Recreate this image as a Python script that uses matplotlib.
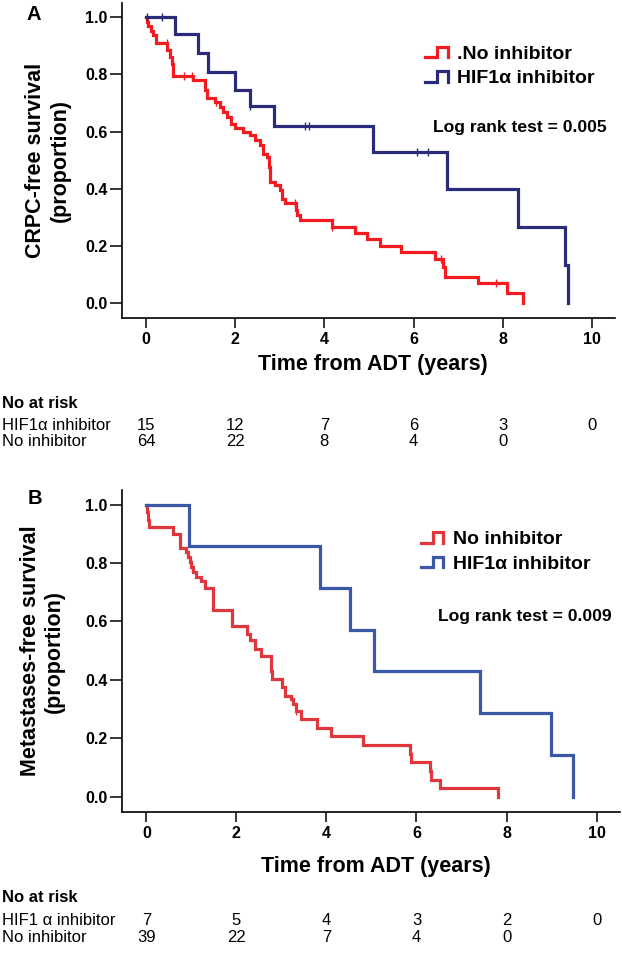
import numpy as np
import matplotlib
matplotlib.use("Agg")
import matplotlib.pyplot as plt
from matplotlib.lines import Line2D
from matplotlib.legend_handler import HandlerBase
import matplotlib.transforms as mtransforms

plt.rcParams["font.family"] = ["Liberation Sans", "DejaVu Sans"]
plt.rcParams["font.weight"] = "bold"

# ---------- panel A: CRPC-free survival ----------
a_blue_t = [0, 0.65, 1.17, 1.39, 2.00, 2.33, 2.88, 5.08, 6.74, 8.34, 9.40, 9.46]
a_blue_s = [1.0, 0.94, 0.875, 0.81, 0.745, 0.69, 0.62, 0.53, 0.40, 0.265, 0.133, 0.0]
a_blue_cens = [0.02, 0.36, 2.34, 3.57, 3.65, 6.07, 6.32]

a_red_t = [0, 0.02, 0.05, 0.10, 0.16, 0.22, 0.48, 0.53, 0.58, 0.61, 1.06, 1.32, 1.36,
           1.55, 1.66, 1.73, 1.82, 1.90, 2.00, 2.18, 2.33, 2.44, 2.56, 2.63, 2.71,
           2.76, 2.78, 2.89, 3.00, 3.06, 3.12, 3.36, 3.38, 3.45, 4.16, 4.69, 4.95,
           5.25, 5.73, 6.48, 6.67, 6.70, 7.45, 8.09, 8.45]
a_red_s = [1.0, 0.984, 0.969, 0.953, 0.937, 0.91, 0.885, 0.86, 0.838, 0.795, 0.78,
           0.745, 0.716, 0.704, 0.686, 0.669, 0.651, 0.628, 0.614, 0.599, 0.587,
           0.570, 0.552, 0.523, 0.512, 0.477, 0.424, 0.413, 0.395, 0.366, 0.349,
           0.325, 0.308, 0.290, 0.267, 0.244, 0.223, 0.199, 0.179, 0.156, 0.127,
           0.092, 0.069, 0.034, 0.0]
a_red_cens = [0.46, 0.84, 1.02, 1.58, 3.34, 4.17, 6.62, 7.86]

a_risk_times = [0, 2, 4, 6, 8, 10]
a_risk_hif = ["15", "12", "7", "6", "3", "0"]
a_risk_no = ["64", "22", "8", "4", "0"]

# ---------- panel B: metastases-free survival ----------
b_blue_t = [0, 0.94, 3.85, 4.52, 5.05, 7.41, 8.98, 9.48]
b_blue_s = [1.0, 0.857, 0.714, 0.571, 0.429, 0.286, 0.143, 0.0]

b_red_t = [0, 0.02, 0.04, 0.06, 0.59, 0.74, 0.89, 0.92, 0.96, 1.00, 1.04, 1.11,
           1.22, 1.30, 1.47, 1.49, 1.90, 2.24, 2.31, 2.41, 2.55, 2.78, 2.80, 3.02,
           3.08, 3.22, 3.26, 3.32, 3.44, 3.78, 4.11, 4.82, 5.86, 5.88, 6.30, 6.33,
           6.53, 7.81]
b_red_s = [1.0, 0.974, 0.949, 0.925, 0.90, 0.85, 0.838, 0.821, 0.804, 0.787, 0.77,
           0.753, 0.739, 0.716, 0.695, 0.638, 0.586, 0.558, 0.535, 0.506, 0.481,
           0.432, 0.403, 0.375, 0.346, 0.334, 0.317, 0.294, 0.266, 0.237, 0.208,
           0.177, 0.145, 0.119, 0.088, 0.059, 0.031, 0.0]
b_red_cens = [1.01, 3.33]

b_risk_times = [0, 2, 4, 6, 8, 10]
b_risk_hif = ["7", "5", "4", "3", "2", "0"]
b_risk_no = ["39", "22", "7", "4", "0"]


class StepGlyph(HandlerBase):
    def create_artists(self, legend, orig_handle, xdescent, ydescent, width, height,
                       fontsize, trans):
        x0, y0 = -xdescent, -ydescent
        xs = [x0, x0 + 0.55 * width, x0 + 0.55 * width, x0 + width, x0 + width]
        ys = [y0 + 0.12 * height, y0 + 0.12 * height, y0 + 0.88 * height,
              y0 + 0.88 * height, y0 + 0.1 * height]
        ln = Line2D(xs, ys, color=orig_handle.get_color(),
                    lw=orig_handle.get_linewidth(), solid_joinstyle="miter",
                    transform=trans)
        return [ln]


def km_at(t, times, surv):
    i = np.searchsorted(times, t, side="right") - 1
    return surv[i]


def panel(ax, red, blue, red_cens, blue_cens, cols, labels, pval, ylab,
          leg_xy, p_xy, ylab_x, xlab_y):
    rc, bc = cols
    lr, = ax.step(red[0], red[1], where="post", color=rc, lw=2.3,
                  solid_joinstyle="miter")
    lb, = ax.step(blue[0], blue[1], where="post", color=bc, lw=2.3,
                  solid_joinstyle="miter")
    for cens, (tt, ss), c in ((red_cens, red, rc), (blue_cens, blue, bc)):
        if cens:
            ys = [km_at(t, tt, ss) for t in cens]
            ax.plot(cens, ys, ls="none", marker="|", ms=6, mew=1.0, color=c)
    ax.set_xlim(-0.54, 10.52)
    ax.set_ylim(-0.052, 1.05)
    ax.set_xticks([0, 2, 4, 6, 8, 10])
    ax.set_yticks([0, 0.2, 0.4, 0.6, 0.8, 1.0])
    ax.set_yticklabels([f"{v:.1f}" for v in ax.get_yticks()])
    ax.spines[["top", "right"]].set_visible(False)
    for s in ("left", "bottom"):
        ax.spines[s].set_linewidth(1.2)
    ax.tick_params(axis="y", length=8.5, width=1.1, labelsize=11.5, pad=2)
    ax.tick_params(axis="x", length=7, width=1.1, labelsize=11.5, pad=3)
    ax.legend([lr, lb], labels, handler_map={Line2D: StepGlyph()}, frameon=False,
              loc="upper left", bbox_to_anchor=leg_xy, borderaxespad=0,
              borderpad=0, handlelength=1.15, handletextpad=0.5,
              labelspacing=0.36, prop={"size": 14, "weight": "bold"})
    ax.text(p_xy[0], p_xy[1], f"Log rank test = {pval}", transform=ax.transAxes,
            fontsize=12.6, fontweight="bold", ha="left", va="center")
    ax.text(ylab_x, 0.5, ylab, transform=ax.transAxes, rotation=90, ha="center",
            va="center", multialignment="center", fontsize=15.5, fontweight="bold")
    ax.set_xlabel("Time from ADT (years)", fontsize=15.5, fontweight="bold")
    ax.xaxis.set_label_coords(0.509, xlab_y)
    ax.xaxis.label.set_va("top")


fig = plt.figure(figsize=(6.22, 9.55), dpi=100)
W, H = 622, 955
axA = fig.add_axes([122 / W, 1 - 318 / H, 493 / W, 315 / H])
axB = fig.add_axes([122 / W, 1 - 812 / H, 498 / W, 322 / H])

panel(axA, (a_red_t, a_red_s), (a_blue_t, a_blue_s), a_red_cens, a_blue_cens,
      ("#f41a1f", "#2a2b7a"), [".No inhibitor", "HIF1α inhibitor"], "0.005",
      "CRPC-free survival\n(proportion)", (0.615, 0.866), (0.631, 0.606), -0.15, -0.114)
panel(axB, (b_red_t, b_red_s), (b_blue_t, b_blue_s), b_red_cens, [],
      ("#e0363d", "#3a58a7"), ["No inhibitor", "HIF1α inhibitor"], "0.009",
      "Metastases-free survival\n(proportion)", (0.600, 0.874), (0.635, 0.606), -0.16, -0.137)

fig.text(34 / W, 1 - 15 / H, "A", fontsize=14.5, fontweight="bold", ha="center", va="center")
fig.text(35 / W, 1 - 498 / H, "B", fontsize=14.5, fontweight="bold", ha="center", va="center")


def risk_table(ax, rows_y, hif_name, times, hif, no):
    tr = mtransforms.blended_transform_factory(ax.transData, fig.transFigure)
    fig.text(2 / W, 1 - rows_y[0] / H, "No at risk", fontsize=12, fontweight="bold",
             ha="left", va="center")
    fig.text(2 / W, 1 - rows_y[1] / H, hif_name, fontsize=12, fontweight="normal",
             ha="left", va="center")
    fig.text(2 / W, 1 - rows_y[2] / H, "No inhibitor", fontsize=12, fontweight="normal",
             ha="left", va="center")
    for t, v in zip(times, hif):
        ax.text(t, 1 - rows_y[1] / H, v, transform=tr, fontsize=12,
                fontweight="normal", ha="center", va="center")
    for t, v in zip(times, no):
        ax.text(t, 1 - rows_y[2] / H, v, transform=tr, fontsize=12,
                fontweight="normal", ha="center", va="center")


risk_table(axA, (404, 425, 442), "HIF1α inhibitor", a_risk_times, a_risk_hif, a_risk_no)
risk_table(axB, (898, 920, 937), "HIF1 α inhibitor", b_risk_times, b_risk_hif, b_risk_no)

fig.savefig("out.png", dpi=100)
